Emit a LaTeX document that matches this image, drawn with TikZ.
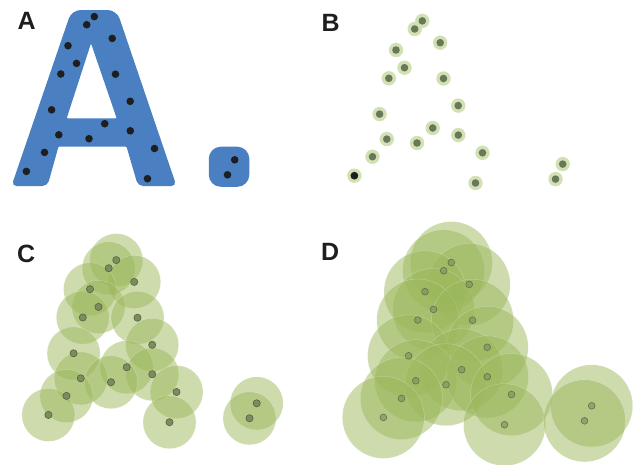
\documentclass[tikz,border=0pt]{standalone}
\usepackage{fontspec}
\setmainfont{Liberation Sans}
\definecolor{ablue}{HTML}{4A80C1}
\definecolor{dotblack}{HTML}{1E1E1E}
\definecolor{halo}{HTML}{D2E1B3}
\definecolor{dotgreen}{HTML}{6A785A}
\definecolor{cgreen}{HTML}{9BB75B}
\definecolor{cdot}{HTML}{7B8C5E}
\definecolor{cdotline}{HTML}{56623F}
\begin{document}
\begin{tikzpicture}[x=1pt,y=-1pt,
  panellabel/.style={font=\fontsize{25}{25}\selectfont\bfseries, inner sep=0pt, anchor=base west, text=dotblack},
  bigdisc/.style={fill=cgreen, fill opacity=0.5, draw=white, draw opacity=0.3, line width=0.4pt},
  smalldot/.style={fill=cdot, draw=cdotline, line width=0.6pt},
  hollowdot/.style={fill=cdot, fill opacity=0.6, draw=cdotline, draw opacity=0.8, line width=0.6pt}
]
\useasboundingbox (0,0) rectangle (635,464);
\def\pts{94.3/16.6, 86.7/24.7, 112.2/38.4, 68/45.7, 76.5/63.4, 60.8/74, 115.5/74.2, 130.2/101.3, 51.6/109.8, 104.7/123.7, 58.8/134.8, 130.3/130.8, 89/138.7, 154.5/148.5, 44.5/152.4, 26.4/171.4, 147.5/178.7, 234.7/159.8, 227.5/174.8}

% labels
\node[panellabel] (labA) at (17.5,29.5) {A};
\node[panellabel] (labB) at (321.5,31.5) {B};
\node[panellabel] (labC) at (17,262.5) {C};
\node[panellabel] (labD) at (321,260) {D};

% ---- Panel A ----
\fill[ablue, even odd rule]
  (30,186) [rounded corners=5pt] -- (11.5,186) [rounded corners=9pt] -- (71.7,10) -- (116.7,10) [rounded corners=5pt] -- (176.5,186)
  -- (138,186) [rounded corners=1pt] -- (126.5,146.5) -- (58.5,146.5) [rounded corners=5pt] -- (47.5,186) [sharp corners] -- cycle
  (91,43.3) [rounded corners=1pt] -- (116.7,118.3) -- (66.7,118.3) -- cycle;
\fill[ablue, rounded corners=12pt] (208.8,146.7) rectangle (249.3,186.8);
\foreach \x/\y in \pts { \fill[dotblack] (\x,\y) circle (3.8pt); }

% ---- Panel B ----
\begin{scope}[shift={(328,4.3)}]
  \foreach \x/\y in \pts { \fill[halo] (\x,\y) circle (7.2pt); }
  \foreach \x/\y in \pts { \fill[dotgreen] (\x,\y) circle (3.8pt); }
  \fill[dotblack] (26.4,171.4) circle (3.8pt);
\end{scope}

% ---- Panel C ----
\begin{scope}[shift={(22,243.5)}]
  \foreach \x/\y in \pts { \path[bigdisc] (\x,\y) circle (26.5pt); }
  \foreach \x/\y in \pts { \path[smalldot] (\x,\y) circle (3.6pt); }
\end{scope}

% ---- Panel D ----
\begin{scope}[shift={(357,246)}]
  \foreach \x/\y in \pts { \path[bigdisc] (\x,\y) circle (41pt); }
  \foreach \x/\y in \pts { \path[hollowdot] (\x,\y) circle (3.4pt); }
\end{scope}
\end{tikzpicture}
\end{document}
